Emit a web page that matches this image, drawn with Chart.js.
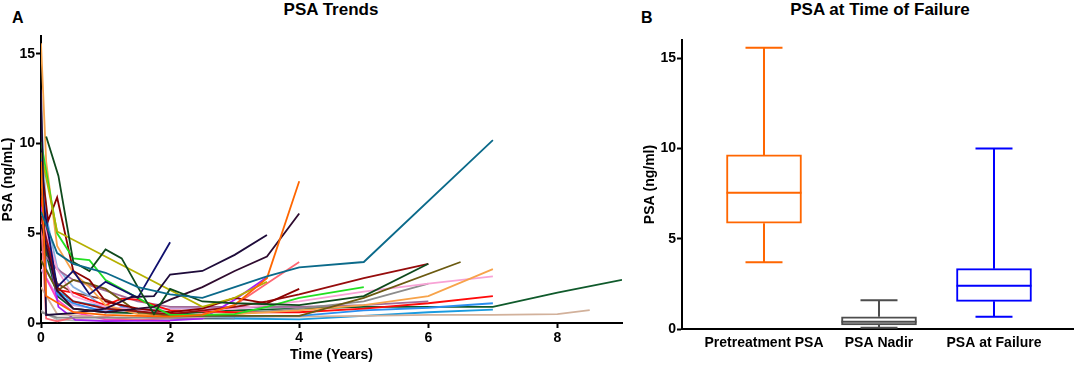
<!DOCTYPE html>
<html>
<head>
<meta charset="utf-8">
<script src="https://cdn.jsdelivr.net/npm/chart.js@4/dist/chart.umd.min.js"></script>
<style>
html, body { margin: 0; padding: 0; background: #fff; }
body { width: 1074px; height: 369px; position: relative; overflow: hidden; font-family: "Liberation Sans", Arial, sans-serif; }
.wrap { position: absolute; top: 0; height: 369px; }
#wrapA { left: 0; width: 630px; }
#wrapB { left: 630px; width: 444px; }
.lbl { position: absolute; font-weight: bold; white-space: nowrap; line-height: 1; color: #000; }
</style>
</head>
<body>
<div class="lbl" style="left:12px;top:10px;font-size:16px;">A</div>
<div class="lbl" style="left:641px;top:10px;font-size:16px;">B</div>
<div class="lbl" style="left:231px;width:200px;text-align:center;top:1px;font-size:17px;">PSA Trends</div>
<div class="lbl" style="left:730px;width:300px;text-align:center;top:1px;font-size:17px;">PSA at Time of Failure</div>
<div class="wrap" id="wrapA"><canvas id="chartA"></canvas></div>
<div class="wrap" id="wrapB"><canvas id="chartB"></canvas></div>
<script>
// panel A: PSA per patient, [years, ng/mL]
const p01 = [[0,6.2],[0.25,3.9],[0.5,3.3],[1,2.8],[1.5,2.0],[2,1.6],[2.5,1.4],[3,2.0],[3.5,2.6],[4,3.1],[5,3.4],[7,10.2]];
const p02 = [[0.08,10.4],[0.27,8.2],[0.5,3.4],[0.75,2.9],[1,4.1],[1.25,3.6],[1.5,2.0],[1.75,0.5],[2,1.9],[2.5,1.2],[3,1.1],[4,1.0],[5,1.5],[6,3.3]];
const p03 = [[0,9.0],[0.08,1.5],[0.5,0.6],[1,0.45],[1.5,0.4],[2,0.35],[2.5,0.45],[3,1.0],[3.5,2.5],[4,7.9]];
const p04 = [[0,5.5],[0.25,1.8],[0.5,0.8],[1,0.6],[1.5,0.8],[1.75,0.9],[2,1.3],[2.5,2.0],[3,2.9],[3.5,3.7],[4,6.1]];
const p05 = [[0,13.0],[0.08,0.45],[0.5,0.55],[1,0.8],[1.4,1.45],[1.75,1.5],[2,2.7],[2.5,2.9],[3,3.8],[3.5,4.9]];
const p06 = [[0,7.5],[0.25,2.0],[0.5,2.9],[0.75,1.6],[1,2.3],[1.5,1.4],[2,4.5]];
const p07 = [[0,9.5],[0.25,5.1],[2.5,0.9],[3,1.4],[3.5,2.3]];
const p08 = [[0,10.1],[0.25,5.0],[0.5,3.6],[0.75,3.5],[1,2.4],[1.75,0.9],[2,0.45],[2.5,0.45],[3,0.5],[3.5,0.9],[4,1.4],[5,2.0]];
const p09 = [[0,9.0],[0.11,5.7],[0.25,7.0],[0.5,2.9],[0.75,2.4],[1,1.2],[1.5,0.8],[2,0.6],[2.5,0.8],[3,1.4],[3.5,1.1],[4,1.9]];
const p10 = [[0,6.0],[0.25,2.0],[0.5,1.2],[1,0.8],[2,0.5],[3,0.9],[3.5,1.2],[4,1.6],[5,2.5],[6,3.3]];
const p11 = [[0,3.5],[0.25,1.8],[0.5,2.4],[0.75,2.2],[1,1.9],[1.5,0.6],[2,0.4],[3,0.4],[4,0.4],[5,1.4],[6.5,3.4]];
const p12 = [[0,15.6],[0.08,9.0],[0.25,4.3],[0.5,2.8],[0.75,2.0],[1,1.0],[1.5,0.5],[2,0.4],[3,0.5],[4,0.7],[5,1.0],[6,1.5],[7,3.0]];
const p13 = [[0,6.0],[0.25,3.0],[0.5,1.5],[1,0.9],[2,0.6],[3,0.8],[4,1.2],[5,1.75],[6,2.2],[7,2.6]];
const p14 = [[0,0.6],[0.25,0.3],[1,0.3],[2,0.3],[3,0.5],[4,0.8],[5,1.2],[6,2.2]];
const p15 = [[0,7.0],[0.25,1.85],[0.5,1.7],[0.75,1.3],[1,1.0],[1.25,1.35],[1.5,1.3],[2,0.7],[3,0.6],[4,0.6],[5,0.8],[6,1.1],[7,1.5]];
const p16 = [[0,8.0],[0.25,1.6],[0.5,1.1],[1,0.6],[1.25,0.9],[1.75,0.5],[2,0.4],[3,0.35],[4,0.4],[5,0.7],[6,0.85],[7,1.1]];
const p17 = [[0,2.0],[0.25,0.5],[1,0.3],[2,0.3],[3,0.35],[4,0.35],[5,0.4],[6,0.45],[7,0.45],[8,0.5],[8.5,0.72]];
const p18 = [[0,6.5],[0.27,0.9],[0.53,0.17],[1,0.1],[2,0.15],[2.5,0.25],[3,1.3],[3.5,2.55]];
const p19 = [[0,6.0],[0.08,0.25],[0.25,0.1],[0.5,0.3],[1,0.35],[1.5,0.15],[2,0.3],[2.5,0.5],[3,1.0],[3.5,2.2],[4,3.4]];
const p20 = [[0,4.0],[0.25,3.0],[0.5,2.4],[1,1.8],[1.5,1.2],[2,0.9],[3,0.9],[4,0.9],[5,1.0],[6,1.2]];
const p21 = [[0,12.0],[0.08,6.0],[0.25,3.1],[0.5,2.0],[0.75,1.5],[1,0.8],[2,0.4],[3,0.3]];
const p22 = [[0,5.0],[0.25,1.5],[0.5,0.8],[1,0.6],[2,0.5],[3,0.7],[4,0.8],[5,0.9],[7,0.9],[8,1.7],[9,2.4]];
const p23 = [[0,5.0],[0.25,2.2],[0.5,1.7],[1,1.3],[1.5,0.6],[2,0.3],[3,0.3]];
const p24 = [[0,8.0],[0.08,2.5],[0.25,1.3],[0.5,0.6],[1,0.2],[2,0.1]];
const p25 = [[0,9.5],[0.08,3.0],[0.25,1.8],[0.5,1.2],[1,0.9],[1.5,0.6],[2,0.3],[3,0.25],[4,0.2],[5,0.4],[6,0.6],[7,0.75]];
const p26 = [[0,0.7],[0.08,0.5],[0.25,0.2],[0.5,0.15],[1,0.15],[2,0.2],[3,0.25]];
const p27 = [[0,3.0],[0.25,1.5],[0.5,1.0],[1,0.7],[2,0.8],[3,0.85],[4,0.9],[5,0.95]];

const patients = [p01,p02,p03,p04,p05,p06,p07,p08,p09,p10,p11,p12,p13,p14,p15,p16,p17,p18,p19,p20,p21,p22,p23,p24,p25,p26,p27];
const patientColors = ['#0b6a8a','#0e4a1c','#ff6600','#2f0b2f','#1e0b3a','#10106e','#b5b000','#22e022','#8b0000','#960c0c',
  '#6b5a10','#f7a34a','#f8a3d6','#8c8c8c','#ff0a0a','#2b8ff0','#d2b19b','#a51ef5','#ff6672','#a26a98',
  '#86aee0','#0f5a2b','#8a3b2b','#ff3fbf','#1a9be0','#b4b4b4','#c9a3e3'];
const timeTicks = [0, 2, 4, 6, 8];
const psaTicks = [0, 5, 10, 15];

// panel B: box plot summary
const boxLabels = ['Pretreatment PSA', 'PSA Nadir', 'PSA at Failure'];
const boxMin = [3.7, 0.07, 0.68];
const boxQ1 = [5.86, 0.22, 1.53];
const boxMedian = [7.55, 0.40, 2.40];
const boxQ3 = [9.64, 0.68, 3.34];
const boxMax = [15.57, 1.59, 10.0];
const boxColors = ['#ff6600', '#4d4d4d', '#0000ff'];

const fontFam = '"Liberation Sans", Arial, sans-serif';
const tickFont = { family: fontFam, size: 14, weight: 'bold' };

function axisY(width, titleText) {
 return {
  min: 0, max: 16,
  afterBuildTicks: s => { s.ticks = psaTicks.map(v => ({ value: v })); },
  afterFit: s => { s.width = width; },
  grid: { display: true, drawOnChartArea: false, drawTicks: true, tickLength: 5, tickWidth: 2, tickColor: '#000' },
  border: { display: true, color: '#000', width: 2 },
  ticks: { color: '#000', font: tickFont, padding: 1 },
  title: { display: true, text: titleText, color: '#000', font: tickFont, padding: 0 }
 };
}

new Chart(document.getElementById('chartA'), {
 type: 'line',
 data: {
  datasets: patients.map((pts, i) => ({
   data: pts.map(([x, y]) => ({ x, y })),
   borderColor: patientColors[i],
   borderWidth: 1.8,
   pointRadius: 0,
   tension: 0,
   fill: false
  }))
 },
 options: {
  responsive: true,
  maintainAspectRatio: false,
  animation: false,
  layout: { padding: { top: 36, right: 8, left: 0, bottom: 0 } },
  plugins: { legend: { display: false }, tooltip: { enabled: false } },
  scales: {
   x: {
    type: 'linear', min: 0, max: 9,
    afterBuildTicks: s => { s.ticks = timeTicks.map(v => ({ value: v })); },
    afterFit: s => { s.height = 46; },
    grid: { display: true, drawOnChartArea: false, drawTicks: true, tickLength: 5, tickWidth: 2, tickColor: '#000' },
    border: { display: true, color: '#000', width: 2 },
    ticks: { color: '#000', font: tickFont, padding: 2, maxRotation: 0 },
    title: { display: true, text: 'Time (Years)', color: '#000', font: tickFont, padding: { top: 0, bottom: 5 } }
   },
   y: axisY(41, 'PSA (ng/mL)')
  }
 }
});

// whiskers and medians drawn through the chart's scales
const boxPlugin = {
 id: 'boxWhiskers',
 afterDatasetsDraw(chart) {
  const { ctx, scales: { x, y } } = chart;
  ctx.save();
  ctx.lineWidth = 2;
  boxLabels.forEach((_, i) => {
   const cx = x.getPixelForValue(i);
   ctx.strokeStyle = boxColors[i];
   ctx.beginPath();
   ctx.moveTo(cx, y.getPixelForValue(boxQ3[i])); ctx.lineTo(cx, y.getPixelForValue(boxMax[i]));
   ctx.moveTo(cx, y.getPixelForValue(boxQ1[i])); ctx.lineTo(cx, y.getPixelForValue(boxMin[i]));
   ctx.moveTo(cx - 18.5, y.getPixelForValue(boxMax[i])); ctx.lineTo(cx + 18.5, y.getPixelForValue(boxMax[i]));
   ctx.moveTo(cx - 18.5, y.getPixelForValue(boxMin[i])); ctx.lineTo(cx + 18.5, y.getPixelForValue(boxMin[i]));
   ctx.moveTo(cx - 37.5, y.getPixelForValue(boxMedian[i])); ctx.lineTo(cx + 37.5, y.getPixelForValue(boxMedian[i]));
   ctx.stroke();
  });
  ctx.restore();
 }
};

new Chart(document.getElementById('chartB'), {
 type: 'bar',
 data: {
  datasets: [{
   data: boxLabels.map((_, i) => ({ x: i, y: [boxQ1[i], boxQ3[i]] })),
   backgroundColor: '#fff',
   borderColor: boxColors,
   borderWidth: 2,
   borderSkipped: false,
   barThickness: 75,
   grouped: false
  }]
 },
 options: {
  responsive: true,
  maintainAspectRatio: false,
  animation: false,
  layout: { padding: { top: 40, right: 1, left: 12, bottom: 0 } },
  plugins: { legend: { display: false }, tooltip: { enabled: false } },
  scales: {
   x: {
    type: 'linear', min: -0.713, max: 2.687, offset: false,
    afterBuildTicks: s => { s.ticks = boxLabels.map((_, i) => ({ value: i })); },
    afterFit: s => { s.height = 40; },
    grid: { display: false, drawTicks: false, offset: false },
    border: { display: true, color: '#000', width: 2 },
    ticks: { color: '#000', font: tickFont, padding: 6, maxRotation: 0, autoSkip: false, callback: v => boxLabels[v] }
   },
   y: axisY(40, 'PSA (ng/ml)')
  }
 },
 plugins: [boxPlugin]
});
</script>
</body>
</html>
